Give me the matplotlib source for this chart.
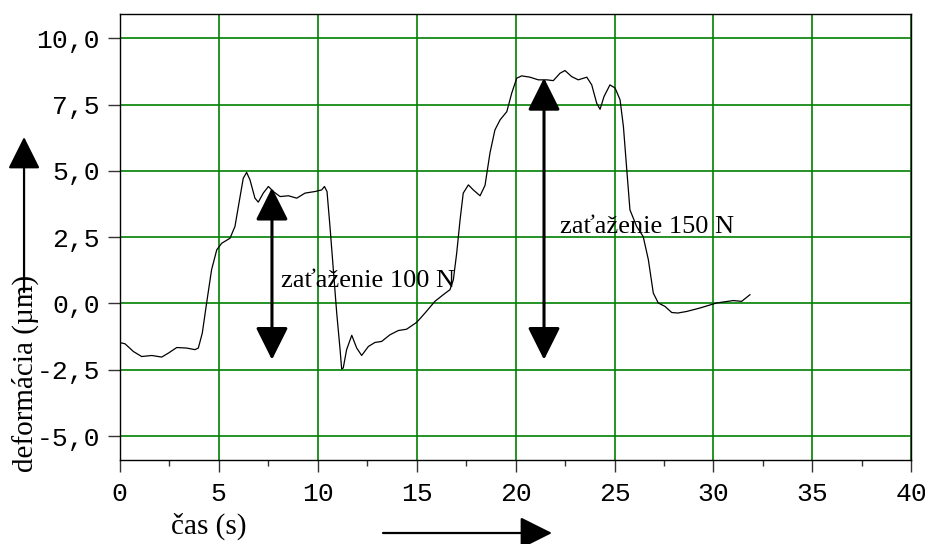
import numpy as np
import matplotlib
matplotlib.use("Agg")
import matplotlib.pyplot as plt
from matplotlib.ticker import FuncFormatter, MultipleLocator

# priebeh deformácie odčítaný z grafu
cas = [0.0, 0.28, 0.70, 1.12, 1.63, 2.13, 2.47, 2.89, 3.39, 3.81, 3.98, 4.18, 4.40,
       4.65, 4.91, 5.16, 5.58, 5.83, 6.09, 6.25, 6.42, 6.59, 6.84, 7.01, 7.26, 7.52,
       7.77, 8.11, 8.53, 8.95, 9.37, 9.87, 10.21, 10.35, 10.48, 10.63, 10.80, 10.97,
       11.14, 11.22, 11.30, 11.47, 11.73, 11.98, 12.23, 12.57, 12.90, 13.24, 13.66,
       14.08, 14.50, 15.01, 15.43, 15.93, 16.35, 16.69, 16.86, 17.03, 17.20, 17.36,
       17.62, 17.87, 18.21, 18.46, 18.71, 18.96, 19.22, 19.56, 19.81, 20.06, 20.31,
       20.73, 21.15, 21.58, 21.91, 22.25, 22.50, 22.84, 23.17, 23.60, 23.85, 24.10,
       24.27, 24.47, 24.77, 25.03, 25.28, 25.45, 25.62, 25.78, 26.12, 26.45, 26.71,
       26.96, 27.21, 27.55, 27.89, 28.20, 28.65, 29.32, 30.16, 31.00, 31.42, 31.84]
deformacia = [-1.47, -1.52, -1.81, -2.00, -1.96, -2.02, -1.87, -1.66, -1.68, -1.74,
              -1.68, -1.12, 0.02, 1.27, 2.02, 2.27, 2.46, 2.90, 4.03, 4.72, 4.94, 4.66,
              3.97, 3.82, 4.16, 4.41, 4.22, 4.03, 4.06, 3.97, 4.16, 4.22, 4.28, 4.41,
              4.22, 2.90, 1.27, -0.36, -1.74, -2.47, -2.43, -1.74, -1.20, -1.68, -1.96,
              -1.62, -1.47, -1.43, -1.18, -1.02, -0.97, -0.71, -0.36, 0.08, 0.33, 0.52,
              0.89, 1.90, 3.15, 4.16, 4.47, 4.28, 4.06, 4.45, 5.67, 6.54, 6.92, 7.23,
              7.93, 8.49, 8.58, 8.53, 8.43, 8.43, 8.40, 8.68, 8.78, 8.55, 8.43, 8.53,
              8.24, 7.55, 7.32, 7.80, 8.24, 8.12, 7.68, 6.67, 5.04, 3.53, 2.90, 2.52,
              1.65, 0.39, 0.02, -0.11, -0.34, -0.36, -0.30, -0.17, 0.02, 0.11, 0.08, 0.33]

# šípky zaťaženia (čas, dolný a horný koniec)
sipky_cas = [7.7, 21.44]
sipky_dole = [-2.12, -2.12]
sipky_hore = [4.36, 8.5]
popisky = ["zaťaženie 100 N", "zaťaženie 150 N"]
popisky_xy = [(8.16, 0.85), (22.25, 2.89)]

fig = plt.figure(figsize=(9.25, 5.44), dpi=100)
ax = fig.add_axes([0.1292, 0.1544, 0.8562, 0.8193])

ax.plot(cas, deformacia, color="black", lw=0.9, zorder=3)

ax.set_xlim(0, 40)
ax.set_ylim(-5.9, 10.9)
ax.xaxis.set_major_locator(MultipleLocator(5))
ax.xaxis.set_minor_locator(MultipleLocator(2.5))
ax.yaxis.set_major_locator(MultipleLocator(2.5))
ax.yaxis.set_major_formatter(FuncFormatter(lambda v, p: f"{v:.1f}".replace(".", ",")))

ax.grid(True, which="major", color="#008000", lw=1.2)
ax.set_axisbelow(True)
for s in ax.spines.values():
    s.set_color("black")
    s.set_linewidth(1.0)

ax.tick_params(axis="both", which="major", direction="out", length=8.6, width=1.0,
               color="#333333", labelsize=19)
ax.tick_params(axis="y", pad=5.5)
ax.tick_params(axis="x", pad=7.5)
ax.tick_params(axis="x", which="minor", direction="out", length=4.3, width=1.0, color="#333333")
for lab in ax.get_xticklabels() + ax.get_yticklabels():
    lab.set_family("Liberation Mono")

# šípky zaťaženia
for x, y0, y1 in zip(sipky_cas, sipky_dole, sipky_hore):
    ax.annotate("", xy=(x, y1), xytext=(x, y0),
                arrowprops=dict(arrowstyle="<|-|>,head_length=1.0,head_width=0.5",
                                mutation_scale=20, color="black", lw=2.2,
                                shrinkA=0, shrinkB=0), zorder=4)
for txt, (x, y) in zip(popisky, popisky_xy):
    ax.text(x, y, txt, family="Liberation Serif", fontsize=19, va="center", ha="left", zorder=5)

# popisy osí so šípkami
fig.text(0.027, 0.314, "deformácia (µm)", family="Liberation Serif", fontsize=21,
         rotation=90, ha="center", va="center")
fig.text(0.226, 0.032, "čas (s)", family="Liberation Serif", fontsize=21,
         ha="center", va="center")
fig.add_artist(matplotlib.patches.FancyArrowPatch(
    (0.026, 1 - 292 / 544), (0.026, 1 - 137 / 544), transform=fig.transFigure,
    arrowstyle="-|>,head_length=1.0,head_width=0.5", mutation_scale=20,
    color="black", lw=1.6, shrinkA=0, shrinkB=0))
fig.add_artist(matplotlib.patches.FancyArrowPatch(
    (383 / 925, 1 - 533 / 544), (552 / 925, 1 - 533 / 544), transform=fig.transFigure,
    arrowstyle="-|>,head_length=1.0,head_width=0.5", mutation_scale=20,
    color="black", lw=1.6, shrinkA=0, shrinkB=0))

fig.savefig("out.png", dpi=100)
